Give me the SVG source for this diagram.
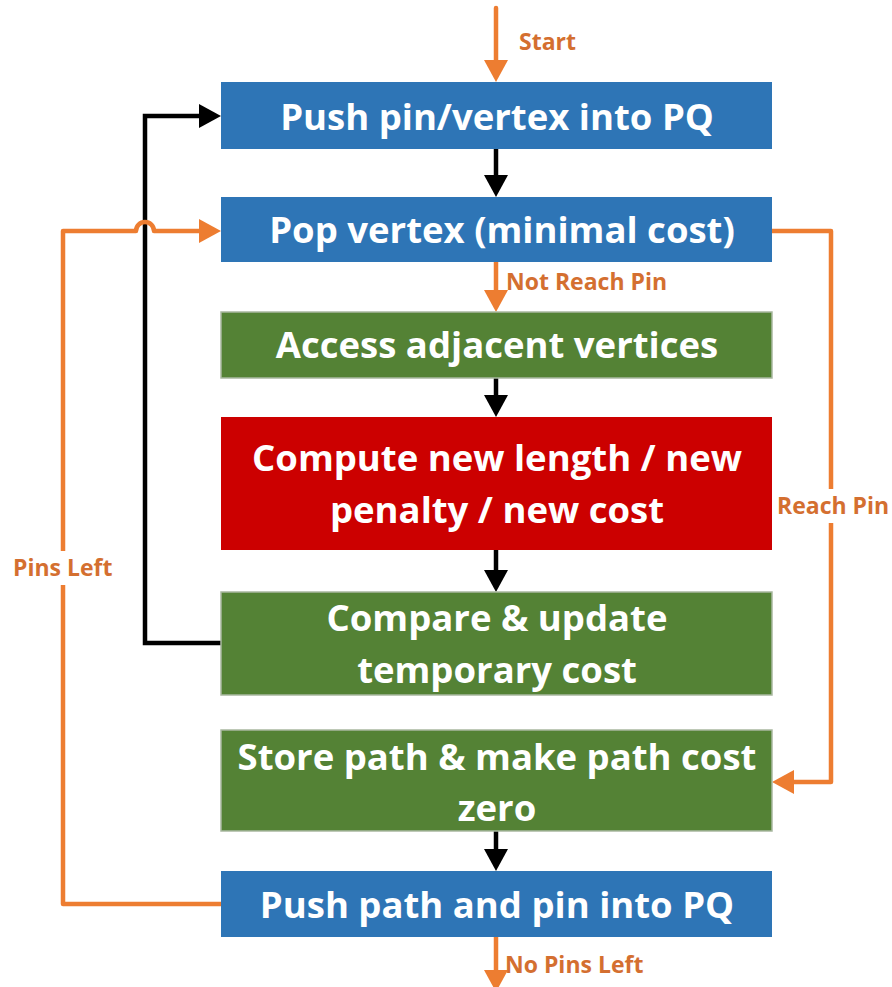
<svg xmlns="http://www.w3.org/2000/svg" width="892" height="987" viewBox="0 0 892 987">
<style>
.blue{fill:#2E75B6}
.green{fill:#548235;stroke:#A9B8A0;stroke-width:1.5}
.red{fill:#CC0000}
.t{font-family:"Open Sans","Liberation Sans",sans-serif;font-weight:700;font-size:36.5px;fill:#FFFFFF;text-anchor:middle}
.lbl{font-family:"Open Sans","Liberation Sans",sans-serif;font-weight:700;font-size:23px;fill:#D46F30}
.o{fill:none;stroke:#ED7D31;stroke-width:4.5;stroke-linejoin:round;stroke-linecap:round}
.k{fill:none;stroke:#000000;stroke-width:4.5;stroke-linejoin:miter}
</style>
<defs>
<marker id="ao" markerUnits="userSpaceOnUse" markerWidth="22" markerHeight="24" refX="0" refY="12" orient="auto" overflow="visible">
<path d="M0,0 L22,12 L0,24 z" fill="#ED7D31"/>
</marker>
<marker id="ak" markerUnits="userSpaceOnUse" markerWidth="22" markerHeight="24" refX="0" refY="12" orient="auto" overflow="visible">
<path d="M0,0 L22,12 L0,24 z" fill="#000000"/>
</marker>
</defs>
<g id="connectors">
<path class="o" d="M496,8 V60" marker-end="url(#ao)"/>
<path class="k" d="M496,149 V175" marker-end="url(#ak)"/>
<path class="o" d="M496,262 V290" marker-end="url(#ao)"/>
<path class="k" d="M496,378 V395" marker-end="url(#ak)"/>
<path class="k" d="M496,550 V570" marker-end="url(#ak)"/>
<path class="k" d="M496,831 V849" marker-end="url(#ak)"/>
<path class="o" d="M496,937 V970" marker-end="url(#ao)"/>
<path class="k" d="M221,643 H145 V116 H199" marker-end="url(#ak)"/>
<path class="o" d="M221,904 H63 V231 H136 A9,9 0 0 1 154,231 H199" marker-end="url(#ao)"/>
<path class="o" d="M770,231 H831 V782 H794" marker-end="url(#ao)"/>
</g>
<g id="label-start"><text class="lbl" x="519" y="50">Start</text></g>
<g id="label-not-reach"><text class="lbl" x="506" y="290">Not Reach Pin</text></g>
<g id="label-reach"><rect x="776" y="489" width="114" height="34" fill="#FFFFFF"/><text class="lbl" x="777" y="514">Reach Pin</text></g>
<g id="label-pins-left"><rect x="12" y="551" width="100" height="34" fill="#FFFFFF"/><text class="lbl" x="13" y="576">Pins Left</text></g>
<g id="label-no-pins"><text class="lbl" x="505" y="973">No Pins Left</text></g>
<g id="n1"><rect class="blue" x="221" y="82" width="551" height="67"/><text class="t" x="497" y="130">Push pin/vertex into PQ</text></g>
<g id="n2"><rect class="blue" x="221" y="197" width="551" height="65"/><text class="t" x="502" y="243">Pop vertex (minimal cost)</text></g>
<g id="n3"><rect class="green" x="221" y="312" width="551" height="66"/><text class="t" x="497" y="358">Access adjacent vertices</text></g>
<g id="n4"><rect class="red" x="221" y="417" width="551" height="133"/><text class="t" x="497" y="471">Compute new length / new</text><text class="t" x="497" y="523">penalty / new cost</text></g>
<g id="n5"><rect class="green" x="221" y="592" width="551" height="103"/><text class="t" x="497" y="631">Compare &amp; update</text><text class="t" x="497" y="683">temporary cost</text></g>
<g id="n6"><rect class="green" x="221" y="730" width="551" height="101"/><text class="t" x="497" y="770">Store path &amp; make path cost</text><text class="t" x="497" y="821">zero</text></g>
<g id="n7"><rect class="blue" x="221" y="871" width="551" height="66"/><text class="t" x="497" y="918">Push path and pin into PQ</text></g>
</svg>
